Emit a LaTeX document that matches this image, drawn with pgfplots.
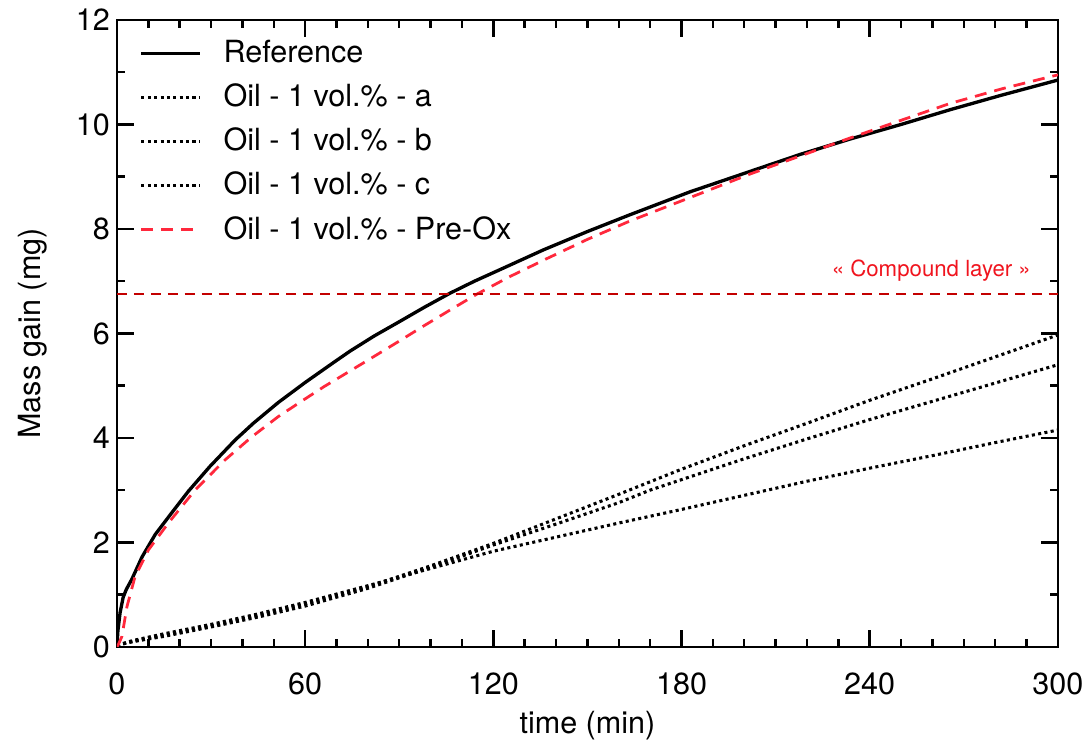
\documentclass[border=0pt]{standalone}
\usepackage{fontspec}
\setmainfont{TeX Gyre Heros}
\usepackage{pgfplots}
\pgfplotsset{compat=1.18}
\definecolor{preox}{RGB}{255,40,60}
\definecolor{layerline}{RGB}{195,0,0}
\definecolor{layertext}{RGB}{240,20,30}

\begin{document}
\begin{tikzpicture}
\begin{axis}[
  scale only axis,
  width=338.8pt, height=225.7pt,
  xmin=0, xmax=300, ymin=0, ymax=12,
  xtick={0,60,...,300}, ytick={0,2,...,12},
  minor x tick num=5, minor y tick num=1,
  tick align=inside,
  major tick length=6pt, minor tick length=3pt,
  every tick/.style={black, line width=0.9pt},
  axis line style={line width=0.9pt},
  font=\fontsize{11}{13}\selectfont,
  /pgf/number format/assume math mode=true,
  tick label style={font=\fontsize{11}{13}\selectfont},
  xticklabel style={yshift=-6pt},
  yticklabel style={xshift=1pt},
  xlabel={time (min)},
  ylabel={Mass gain (mg)},
  ylabel shift=3.4pt,
  xlabel shift=-1pt,
  legend cell align=left,
  legend style={draw=none, fill=none, at={(0,1)}, anchor=north west,
    xshift=5pt, yshift=-3pt, row sep=2.2pt,
    font=\fontsize{11}{13}\selectfont},
  legend image code/.code={\draw[#1] (0pt,0pt) -- (21pt,0pt); \path (27pt,0pt);},
]

% Reference
\addplot[black, line width=1.2pt] coordinates {
  (0,0) (0.3,0.3) (1,0.65) (2,0.95) (3,1.1) (4.8,1.3) (8,1.72) (12.2,2.15)
  (17.4,2.56) (22.8,2.98) (29.6,3.45) (37.7,3.96) (43.5,4.28) (51.5,4.68)
  (60,5.06) (69,5.44) (74.3,5.66) (82,5.95) (90.2,6.23) (98,6.5) (106.2,6.77)
  (114,7.0) (122.1,7.22) (136,7.6) (150,7.95) (163.5,8.27) (182.7,8.71)
  (201.8,9.1) (218,9.43) (233.7,9.72) (250,10.0) (265.5,10.28) (282,10.56)
  (300,10.85)
};
\addlegendentry{Reference}

% Oil - a
\addplot[black, line width=1.1pt, dash pattern=on 1.1pt off 1.2pt] coordinates {
  (0,0.03) (5,0.1) (15,0.22) (30,0.40) (45,0.6) (60,0.82) (80,1.15) (100,1.55)
  (120,1.98) (140,2.45) (160,2.92) (180,3.40) (200,3.85) (220,4.28)
  (240,4.72) (260,5.13) (280,5.55) (300,5.97)
};
\addlegendentry{Oil - 1 vol.\% - a}

% Oil - b
\addplot[black, line width=1.1pt, dash pattern=on 1.1pt off 1.2pt] coordinates {
  (0,0.03) (5,0.1) (15,0.2) (30,0.38) (45,0.57) (60,0.78) (80,1.12) (100,1.52)
  (120,1.95) (140,2.35) (160,2.76) (170,3.0) (186,3.32) (200,3.6) (220,3.98)
  (240,4.35) (260,4.70) (280,5.05) (300,5.40)
};
\addlegendentry{Oil - 1 vol.\% - b}

% Oil - c
\addplot[black, line width=1.1pt, dash pattern=on 1.1pt off 1.2pt] coordinates {
  (0,0.03) (5,0.12) (15,0.25) (30,0.43) (45,0.63) (60,0.85) (80,1.17) (100,1.5)
  (120,1.83) (140,2.1) (160,2.37) (180,2.63) (200,2.9) (220,3.17)
  (240,3.42) (260,3.66) (280,3.91) (300,4.15)
};
\addlegendentry{Oil - 1 vol.\% - c}

% Pre-Ox
\addplot[preox, line width=1pt, dash pattern=on 4.3pt off 2.9pt] coordinates {
  (0,0) (0.5,0.05) (1.6,0.2) (3.2,0.77) (5.8,1.35) (10.1,1.86) (16.4,2.37)
  (24.9,3.0) (34.5,3.58) (43,4.02) (51.5,4.41) (58.3,4.68) (66,4.98)
  (74.3,5.28) (82,5.56) (90.2,5.86) (98,6.15) (106,6.44) (114.7,6.75)
  (125,7.08) (137,7.43) (150,7.8) (163.5,8.15) (182.7,8.6) (201.8,9.05)
  (218,9.4) (233.7,9.74) (250,10.08) (265.5,10.40) (282,10.68) (300,10.95)
};
\addlegendentry{Oil - 1 vol.\% - Pre-Ox}

% compound layer
\addplot[layerline, line width=0.8pt, dash pattern=on 3.6pt off 2.5pt, forget plot]
  coordinates {(0,6.75) (300,6.75)};
\node[anchor=east, text=layertext, font=\fontsize{8}{10}\selectfont]
  at (axis cs:294.5,7.2) {« Compound layer »};

\coordinate (bl) at (rel axis cs:0,0);
\coordinate (tr) at (rel axis cs:1,1);
\end{axis}
\pgfresetboundingbox
\path ([xshift=-42.1pt,yshift=-33.5pt]bl) rectangle ([xshift=9.4pt,yshift=7.2pt]tr);
\end{tikzpicture}
\end{document}
